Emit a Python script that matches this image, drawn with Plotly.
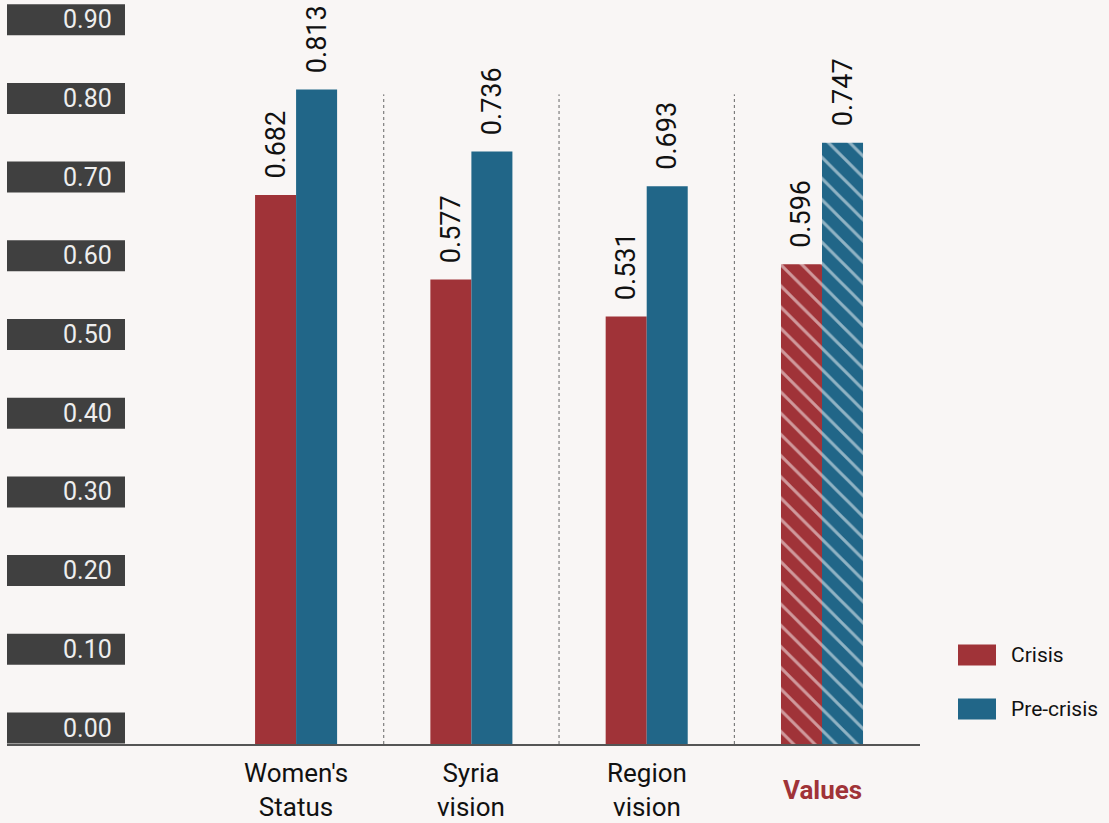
import plotly.graph_objects as go

# ---- data ----
categories = ["Women's<br>Status", "Syria<br>vision", "Region<br>vision", "Values"]
crisis = [0.682, 0.577, 0.531, 0.596]
pre_crisis = [0.813, 0.736, 0.693, 0.747]
series_names = ["Crisis", "Pre-crisis"]
tick_values = [0.0, 0.1, 0.2, 0.3, 0.4, 0.5, 0.6, 0.7, 0.8, 0.9]
tick_labels = ["0.00", "0.10", "0.20", "0.30", "0.40", "0.50", "0.60", "0.70", "0.80", "0.90"]
hatched = [False, False, False, True]

# ---- style ----
W, H = 1109, 823
PL, PR, PT, PB = 7, 920, 0, 744
PW, PH = PR - PL, PB - PT
BG = "#f9f6f5"
RED = "#a03338"
BLUE = "#216688"
BOX = "#404040"
FONT = "Roboto"
colors = [RED, BLUE]

def px_x(px):
    return (px - PL) / PW

def px_y(py):
    return (PB - py) / PH

xs = list(range(len(categories)))
fig = go.Figure()
for name, vals, col in zip(series_names, [crisis, pre_crisis], colors):
    fig.add_trace(go.Bar(
        x=xs, y=vals, name=name,
        marker=dict(color=col, line=dict(width=0),
                    pattern=dict(shape=["\\" if h else "" for h in hatched],
                                 fgcolor="white", fillmode="overlay",
                                 size=15, solidity=0.2)),
        text=[f"\u00a0\u00a0{v:.3f}" for v in vals],
        textposition="outside", textangle=-90, constraintext="none",
        textfont=dict(family=FONT, size=27, color="#111111"),
        cliponaxis=False, showlegend=False,
    ))

shapes = []
annotations = []

# y tick label boxes (on their own overlay axis)
for v, lab in zip(tick_values, tick_labels):
    shapes.append(dict(type="rect", xref="paper", yref="y2",
                       x0=px_x(7), x1=px_x(125), ysizemode="pixel", yanchor=v,
                       y0=0, y1=31, fillcolor=BOX, line=dict(width=0), layer="above"))
    annotations.append(dict(xref="paper", yref="y2", x=px_x(125), y=v,
                            xanchor="right", yanchor="middle", xshift=-11, yshift=15.5,
                            text=lab, showarrow=False,
                            font=dict(family=FONT, size=25, color="#eeeeee")))

# dotted separators between categories
for i in range(len(categories) - 1):
    shapes.append(dict(type="line", xref="x", yref="y", x0=i + 0.5, x1=i + 0.5,
                       y0=0, y1=0.807, line=dict(color="#666666", width=1, dash="dot")))

# category labels
for i, c in enumerate(categories):
    if c == "Values":
        txt = f"<b>{c}</b>"
        col = RED
    else:
        txt = c
        col = "#111111"
    annotations.append(dict(xref="x", yref="paper", x=i, y=px_y(790),
                            xanchor="center", yanchor="middle", text=txt,
                            showarrow=False, align="center",
                            font=dict(family=FONT, size=26, color=col)))

# legend
leg_y = [655, 709]
for name, col, cy in zip(series_names, colors, leg_y):
    shapes.append(dict(type="rect", xref="paper", yref="paper",
                       x0=px_x(958), x1=px_x(996), y0=px_y(cy + 10.5), y1=px_y(cy - 10.5),
                       fillcolor=col, line=dict(width=0)))
    annotations.append(dict(xref="paper", yref="paper", x=px_x(1009), y=px_y(cy),
                            xanchor="left", yanchor="middle", text=name, showarrow=False,
                            font=dict(family=FONT, size=21, color="#111111")))

fig.update_layout(
    width=W, height=H,
    margin=dict(l=PL, r=W - PR, t=PT, b=H - PB, pad=0),
    paper_bgcolor=BG, plot_bgcolor=BG,
    barmode="group", bargap=0.532, bargroupgap=0,
    font=dict(family=FONT),
    xaxis=dict(range=[-1.649, 3.559], showticklabels=False, ticks="",
               showgrid=False, zeroline=False, showline=True,
               linecolor="#555555", linewidth=2),
    yaxis=dict(range=[0, PH / 805], visible=False, showgrid=False, zeroline=False),
    yaxis2=dict(range=[-0.5 / 787, (PH - 0.5) / 787], overlaying="y", visible=False,
                showgrid=False, zeroline=False),
    shapes=shapes, annotations=annotations,
)

fig.write_html("out.html", config={"displayModeBar": False},
               post_script="document.body.style.margin='0';document.body.style.padding='0';")
